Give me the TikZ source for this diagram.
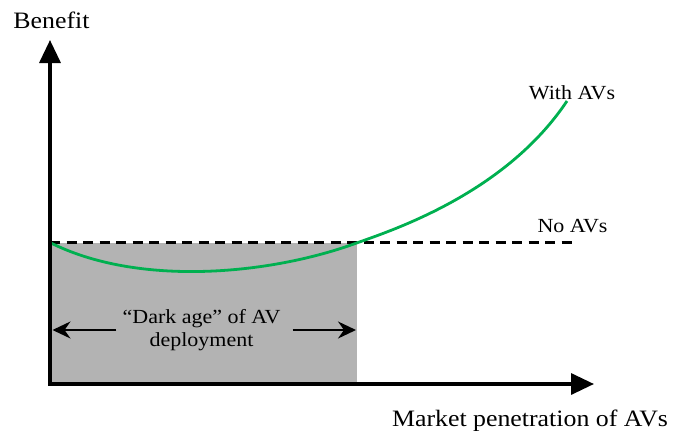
\documentclass[tikz,border=0pt]{standalone}
\usepackage{fontspec}
\setmainfont{Liberation Serif}[FakeStretch=1.1]
\usetikzlibrary{arrows.meta}
\definecolor{curvegreen}{HTML}{00B050}
\definecolor{zonegray}{HTML}{B3B3B3}
\tikzset{
  axis/.style={line width=3.4pt, line join=miter,
    {Triangle[length=23pt,width=21pt]}-{Triangle[length=23pt,width=21pt]}},
  baseline line/.style={line width=2.6pt, dash pattern=on 10pt off 6.5pt},
  benefit curve/.style={line width=2.8pt, curvegreen},
  span arrow/.style={line width=2pt, -{Stealth[length=18pt,width=17pt,inset=6pt]}},
  axis label/.style={font=\fontsize{23.5}{27}\selectfont, inner sep=0pt, anchor=base},
  curve label/.style={font=\fontsize{20}{23.5}\selectfont, inner sep=0pt, anchor=base},
}
\begin{document}
\begin{tikzpicture}[x=1pt, y=-1pt]
  \useasboundingbox (0,0) rectangle (675,434);

  % key points of the plot
  \coordinate (O)    at (50,384);
  \coordinate (ytip) at (50,40);
  \coordinate (xtip) at (594,384);
  \coordinate (c0)   at (50,242.5);
  \coordinate (cx)   at (358,242.5);
  \coordinate (cend) at (567,101);
  \coordinate (dend) at (578,242.5);

  % shaded transition zone
  \fill[zonegray] (c0) rectangle (357,384);

  % no-AV reference level
  \draw[baseline line] (c0) -- (dend);

  % benefit with AVs: dip, then growth
  \draw[benefit curve] (c0) .. controls (138,287) and (270,275) .. (cx)
                            .. controls (398,228.4) and (507,191) .. (cend);

  % axes
  \draw[axis] (ytip) -- (O) -- (xtip);

  % labels
  \node[axis label] (ylab) at (51.5,28) {Benefit};
  \node[axis label] (xlab) at (530,426) {Market penetration of AVs};
  \node[curve label] (with) at (572,99) {With AVs};
  \node[curve label] (noav) at (572.5,232) {No AVs};

  % span of the dark age
  \node[font=\fontsize{20}{23.5}\selectfont, align=center, inner sep=0pt]
    (dark) at (201.5,330) {“Dark age” of AV\\deployment};
  \coordinate (dl) at (52.5,330);
  \coordinate (dr) at (356,330);
  \draw[span arrow] ([xshift=-6pt]dark.west |- dl) -- (dl);
  \draw[span arrow] ([xshift=12pt]dark.east |- dr) -- (dr);
\end{tikzpicture}
\end{document}
